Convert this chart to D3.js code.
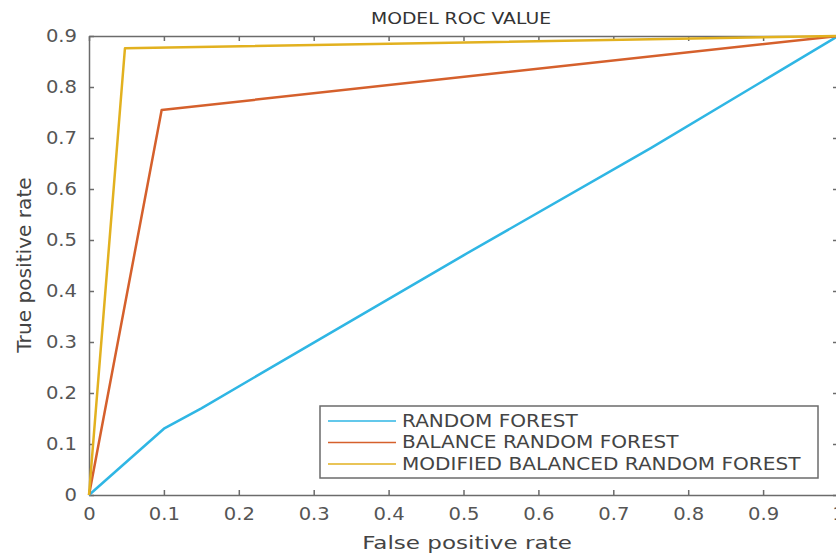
<!DOCTYPE html>
<html>
<head>
<meta charset="utf-8">
<title>Model ROC value</title>
<style>
  body { margin: 0; background: #fff; }
  .axis path, .axis line { stroke: #6b6b6b; stroke-width: 1.5px; }
  .axis text { fill: #555; font: 17px "DejaVu Sans", sans-serif; }
  .line { fill: none; stroke-width: 2.5px; stroke-linejoin: round; }
</style>
</head>
<body>
<svg width="836" height="553"></svg>
<script src="https://cdn.jsdelivr.net/npm/d3@7/dist/d3.min.js"></script>
<script>
// roc points
var names = ["RANDOM FOREST", "BALANCE RANDOM FOREST", "MODIFIED BALANCED RANDOM FOREST"];
var colors = ["#2fb6e4", "#d5602c", "#e2b11f"];
var rfFpr = [0, 0.1, 0.15, 0.5, 0.75, 1];
var rfTpr = [0, 0.13, 0.17, 0.47, 0.68, 0.9];
var brfFpr = [0, 0.097, 1];
var brfTpr = [0, 0.755, 0.9];
var mbrfFpr = [0, 0.048, 1];
var mbrfTpr = [0, 0.876, 0.9];
var xTicks = [0, 0.1, 0.2, 0.3, 0.4, 0.5, 0.6, 0.7, 0.8, 0.9, 1];
var yTicks = [0, 0.1, 0.2, 0.3, 0.4, 0.5, 0.6, 0.7, 0.8, 0.9];

var series = [[rfFpr, rfTpr], [brfFpr, brfTpr], [mbrfFpr, mbrfTpr]].map(function(s, i) {
  return { name: names[i], color: colors[i], values: s[0].map(function(f, j) { return [f, s[1][j]]; }) };
});

var svg = d3.select("svg");
var x = d3.scaleLinear().domain([0, 1]).range([89, 838]);
var y = d3.scaleLinear().domain([0, 0.9]).range([495, 36]);
var fmt = function(d) { return String(+d.toFixed(1)); };

// the source picture is a bit stretched sideways, so widen the text to match
function stretch(sel, k) {
  sel.each(function() {
    var w = this.getComputedTextLength();
    d3.select(this).attr("textLength", w * k).attr("lengthAdjust", "spacingAndGlyphs");
  });
}

var xAxis = svg.append("g")
    .attr("class", "axis")
    .attr("transform", "translate(0," + y(0) + ")")
    .call(d3.axisBottom(x).tickValues(xTicks).tickFormat(fmt).tickSizeInner(-5).tickSizeOuter(0).tickPadding(13));

var yAxis = svg.append("g")
    .attr("class", "axis")
    .attr("transform", "translate(" + x(0) + ",0)")
    .call(d3.axisLeft(y).tickValues(yTicks).tickFormat(fmt).tickSizeInner(-5).tickSizeOuter(0).tickPadding(12));

stretch(xAxis.selectAll("text"), 1.15);
stretch(yAxis.selectAll("text"), 1.15);

// box with inner ticks on top and right
svg.append("g")
    .attr("class", "axis")
    .attr("transform", "translate(0," + y(0.9) + ")")
    .call(d3.axisTop(x).tickValues(xTicks).tickFormat("").tickSizeInner(-5).tickSizeOuter(0));

svg.append("g")
    .attr("class", "axis")
    .attr("transform", "translate(" + x(1) + ",0)")
    .call(d3.axisRight(y).tickValues(yTicks).tickFormat("").tickSizeInner(-5).tickSizeOuter(0));

var line = d3.line()
    .x(function(d) { return x(d[0]); })
    .y(function(d) { return y(d[1]); });

svg.selectAll(".line")
  .data(series)
  .enter().append("path")
    .attr("class", "line")
    .attr("d", function(d) { return line(d.values); })
    .style("stroke", function(d) { return d.color; });

svg.append("text")
    .attr("x", 461)
    .attr("y", 24)
    .attr("text-anchor", "middle")
    .style("font", "15px 'DejaVu Sans', sans-serif")
    .style("fill", "#333")
    .text("MODEL ROC VALUE")
    .call(stretch, 1.25);

svg.append("text")
    .attr("x", 467)
    .attr("y", 549)
    .attr("text-anchor", "middle")
    .style("font", "18px 'DejaVu Sans', sans-serif")
    .style("fill", "#444")
    .text("False positive rate")
    .call(stretch, 1.28);

svg.append("text")
    .attr("transform", "translate(31,265) rotate(-90)")
    .attr("text-anchor", "middle")
    .style("font", "19px 'DejaVu Sans', sans-serif")
    .style("fill", "#444")
    .text("True positive rate")
    .call(stretch, 1.06);

// legend
var legend = svg.append("g").attr("transform", "translate(320,406)");
legend.append("rect")
    .attr("width", 498)
    .attr("height", 72)
    .attr("fill", "#fff")
    .attr("stroke", "#6b6b6b")
    .attr("stroke-width", 1.5);

var item = legend.selectAll(".item")
  .data(series)
  .enter().append("g")
    .attr("class", "item")
    .attr("transform", function(d, i) { return "translate(0," + (15 + i * 21.5) + ")"; });

item.append("line")
    .attr("x1", 8).attr("x2", 76)
    .attr("stroke", function(d) { return d.color; })
    .attr("stroke-width", 1.5);

item.append("text")
    .attr("x", 82)
    .attr("dy", "0.35em")
    .style("font", "17px 'DejaVu Sans', sans-serif")
    .style("fill", "#444")
    .text(function(d) { return d.name; })
    .call(stretch, 1.18);
</script>
</body>
</html>
